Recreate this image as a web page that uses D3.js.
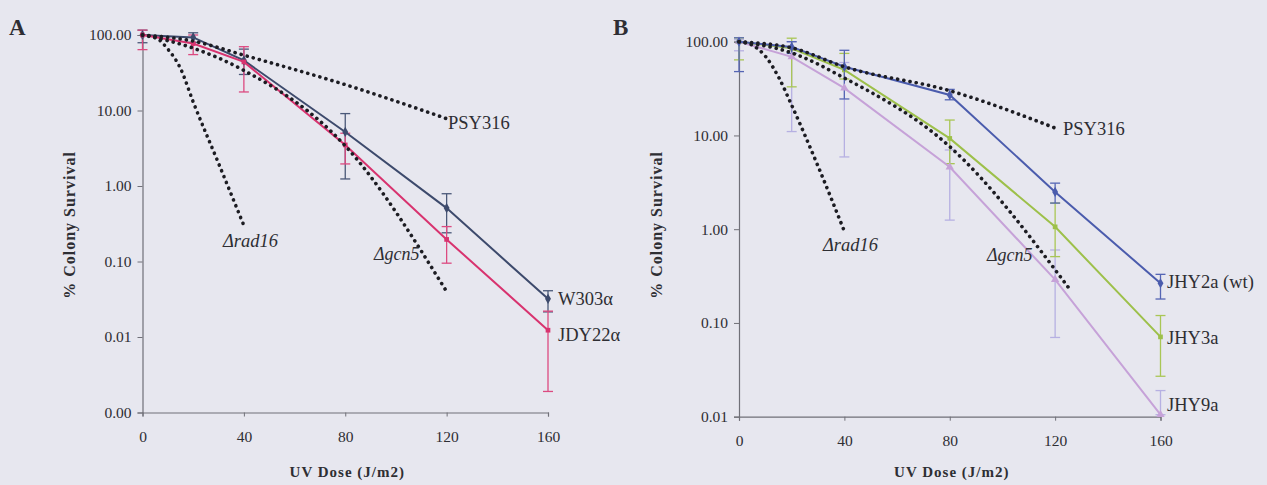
<!DOCTYPE html>
<html>
<head>
<meta charset="utf-8">
<script src="https://cdn.jsdelivr.net/npm/d3@7"></script>
<style>
  html, body { margin: 0; padding: 0; background: #e7e7ef; }
  svg { display: block; }
  text { font-family: "Liberation Serif", "DejaVu Serif", serif; fill: #2e2e33; }
</style>
</head>
<body>
<svg id="chart" width="1267" height="485"></svg>
<script>
// ---------------- DATA ----------------
const doses = [0, 20, 40, 80, 120, 160];
const xTicks = [0, 40, 80, 120, 160];
const yTicksA = [0.001, 0.01, 0.1, 1, 10, 100];
const yTicksB = [0.01, 0.1, 1, 10, 100];

// Panel A measured strains
const w303 = [100, 93, 46, 5.2, 0.51, 0.032];
const w303Lo = [79, 80, 30, 1.24, 0.24, 0.0215];
const w303Hi = [116, 107, 65, 9.1, 0.79, 0.041];
const jdy22 = [100, 77, 44, 3.5, 0.196, 0.0123];
const jdy22Lo = [64, 55, 17.6, 1.96, 0.095, 0.0019];
const jdy22Hi = [116, 100, 70, 5, 0.29, 0.022];

// Panel A reference curves (dotted)
const psyDosesA = [0, 20, 40, 80, 120];
const psyA = [100, 83, 54, 22, 7.8];
const gcnDosesA = [0, 20, 40, 80, 120];
const gcnA = [100, 67, 34, 3.4, 0.04];
const radDosesA = [0, 5, 10, 15, 20, 30, 40];
const radA = [100, 93, 65, 36, 13, 2, 0.3];

// Panel B measured strains
const jhy2 = [100, 88, 54, 27, 2.5, 0.265];
const jhy2Lo = [48, 75, 24.5, 24, 1.9, 0.18];
const jhy2Hi = [110, 100, 81, 31, 3.1, 0.33];
const jhy3 = [100, 85, 50, 9.3, 1.06, 0.071];
const jhy3Lo = [64, 33, 40, 5, 0.51, 0.027];
const jhy3Hi = [110, 109, 75, 14.6, 1.9, 0.12];
const jhy9 = [100, 69, 32, 4.6, 0.29, 0.0105];
const jhy9Lo = [80, 11, 5.9, 1.25, 0.07, 0.0105];
const jhy9Hi = [105, 100, 60, 7, 0.6, 0.019];

// Panel B reference curves (dotted)
const psyDosesB = [0, 20, 40, 80, 120];
const psyB = [100, 86, 54, 30, 12];
const gcnDosesB = [0, 20, 40, 80, 126];
const gcnB = [100, 76, 41, 7.6, 0.22];
const radDosesB = [0, 5, 10, 15, 20, 30, 40];
const radB = [100, 92, 70, 42, 21, 4.7, 0.95];

// ---------------- DRAW ----------------
const svg = d3.select("#chart");
svg.append("rect").attr("width", 1267).attr("height", 485).attr("fill", "#e7e7ef");

function zip(xs, ys) { return xs.map((d, i) => ({ x: d, y: ys[i] })); }

function drawPanel(p) {
  const x = d3.scaleLinear().domain([0, 160]).range(p.xRange);
  const y = d3.scaleLog().domain(p.yDomain).range(p.yRange);
  const g = svg.append("g");

  // axes
  const yAxis = d3.axisLeft(y).tickValues(p.yTicks).tickFormat(d3.format(".2f")).tickSize(5).tickPadding(6);
  const ya = g.append("g").attr("transform", `translate(${p.xRange[0]},0)`).call(yAxis);
  const xAxis = d3.axisBottom(x).tickValues(xTicks).tickSize(4).tickPadding(14);
  const xa = g.append("g").attr("transform", `translate(0,${p.yRange[0]})`).call(xAxis);
  [ya, xa].forEach(a => {
    a.select(".domain").attr("stroke", "#707078").attr("stroke-width", 1.2);
    a.selectAll(".tick line").attr("stroke", "#707078");
    a.selectAll(".tick text").attr("font-size", 15.5).attr("font-family", "Liberation Serif").attr("fill", "#2e2e33");
  });

  // error bars
  p.series.forEach(s => {
    doses.forEach((d, i) => {
      const lo = y(s.lo[i]), hi = y(s.hi[i]), cx = x(d);
      g.append("line").attr("x1", cx).attr("x2", cx).attr("y1", lo).attr("y2", hi)
        .attr("stroke", s.err).attr("stroke-width", 1.3);
      [lo, hi].forEach(v => g.append("line").attr("x1", cx - 5).attr("x2", cx + 5).attr("y1", v).attr("y2", v)
        .attr("stroke", s.err).attr("stroke-width", 1.3));
    });
  });

  // solid series lines
  const line = d3.line().x(d => x(d.x)).y(d => y(d.y));
  p.series.forEach(s => {
    const pts = zip(doses, s.values);
    g.append("path").attr("d", line(pts)).attr("fill", "none").attr("stroke", s.color).attr("stroke-width", 2);
    const sym = d3.symbol().type(s.symbol).size(s.symbol === d3.symbolSquare ? 22 : 30);
    g.selectAll(null).data(pts).enter().append("path")
      .attr("d", sym).attr("transform", d => `translate(${x(d.x)},${y(d.y)})`).attr("fill", s.color);
  });

  // dotted reference curves
  const smooth = d3.line().x(d => x(d.x)).y(d => y(d.y)).curve(d3.curveMonotoneX);
  p.refs.forEach(r => {
    g.append("path").attr("d", smooth(zip(r.doses, r.values))).attr("fill", "none")
      .attr("stroke", "#1c1c22").attr("stroke-width", 3.6).attr("stroke-linecap", "round")
      .attr("stroke-dasharray", "0.1 6.2");
  });

  // labels
  p.labels.forEach(l => {
    g.append("text").attr("x", l.x).attr("y", l.y).text(l.text)
      .attr("font-size", l.size || 18.5).attr("font-style", l.italic ? "italic" : "normal")
      .attr("dominant-baseline", "middle");
  });

  // axis titles
  g.append("text").attr("x", (p.xRange[0] + p.xRange[1]) / 2 + 2).attr("y", 474)
    .attr("text-anchor", "middle").attr("dominant-baseline", "middle")
    .attr("font-weight", "bold").attr("font-size", 15).attr("letter-spacing", 1).text("UV Dose (J/m2)");
  g.append("text").attr("transform", `translate(${p.yTitleX},225) rotate(-90)`)
    .attr("text-anchor", "middle").attr("dominant-baseline", "middle")
    .attr("font-weight", "bold").attr("font-size", 16).attr("letter-spacing", 1).text("% Colony Survival");

  // panel letter
  g.append("text").attr("x", p.letterX).attr("y", 35).attr("font-weight", "bold").attr("font-size", 23)
    .text(p.letter);
}

drawPanel({
  letter: "A", letterX: 9,
  xRange: [142.5, 548], yDomain: [0.001, 100], yRange: [412.5, 35], yTicks: yTicksA, yTitleX: 71,
  series: [
    { values: w303, lo: w303Lo, hi: w303Hi, color: "#3d4a6c", err: "#4a5878", symbol: d3.symbolDiamond },
    { values: jdy22, lo: jdy22Lo, hi: jdy22Hi, color: "#d8336f", err: "#dc4a80", symbol: d3.symbolSquare }
  ],
  refs: [
    { doses: psyDosesA, values: psyA },
    { doses: gcnDosesA, values: gcnA },
    { doses: radDosesA, values: radA }
  ],
  labels: [
    { text: "PSY316", x: 448, y: 125 },
    { text: "Δrad16", x: 223, y: 243, italic: true },
    { text: "Δgcn5", x: 374, y: 256, italic: true, size: 18 },
    { text: "W303α", x: 558, y: 301 },
    { text: "JDY22α", x: 558, y: 337 }
  ]
});

drawPanel({
  letter: "B", letterX: 613,
  xRange: [739, 1160.5], yDomain: [0.01, 100], yRange: [416.7, 41.7], yTicks: yTicksB, yTitleX: 658,
  series: [
    { values: jhy9, lo: jhy9Lo, hi: jhy9Hi, color: "#c6a2d8", err: "#b6b0e2", symbol: d3.symbolTriangle },
    { values: jhy3, lo: jhy3Lo, hi: jhy3Hi, color: "#9dc04a", err: "#a9c655", symbol: d3.symbolSquare },
    { values: jhy2, lo: jhy2Lo, hi: jhy2Hi, color: "#4b5cad", err: "#5565b4", symbol: d3.symbolDiamond }
  ],
  refs: [
    { doses: psyDosesB, values: psyB },
    { doses: gcnDosesB, values: gcnB },
    { doses: radDosesB, values: radB }
  ],
  labels: [
    { text: "PSY316", x: 1063, y: 131 },
    { text: "Δrad16", x: 823, y: 247, italic: true },
    { text: "Δgcn5", x: 987, y: 257, italic: true, size: 18 },
    { text: "JHY2a (wt)", x: 1167, y: 284 },
    { text: "JHY3a", x: 1167, y: 340 },
    { text: "JHY9a", x: 1167, y: 407 }
  ]
});
</script>
</body>
</html>
